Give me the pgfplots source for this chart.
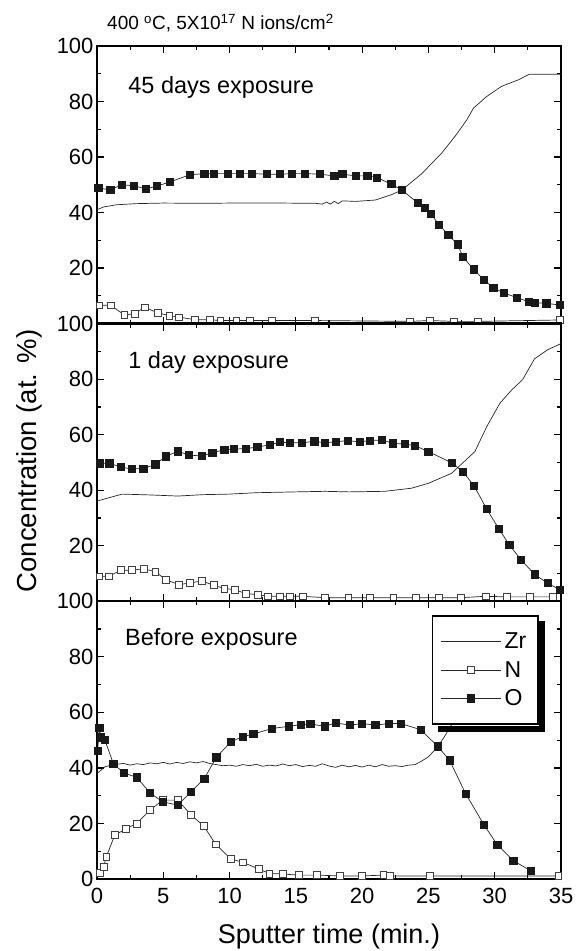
\documentclass[border=0pt]{standalone}
\usepackage{fontspec}
\setmainfont{Liberation Sans}
\usepackage{pgfplots}
\pgfplotsset{compat=1.18}

\pgfplotsset{
  panel/.style={
    scale only axis, width=464pt, height=277.7pt,
    xmin=0, xmax=35, ymin=0, ymax=100,
    xtick={0,5,...,35}, minor x tick num=1,
    ytick={0,20,...,100}, minor y tick num=1,
    tick align=inside,
    major tick length=7pt, minor tick length=4pt,
    tick style={black, line width=1.2pt},
    axis line style={line width=2.2pt},
    tick label style={font=\fontsize{22}{24}\selectfont},
    xticklabel style={yshift=-6pt},
    /pgf/number format/assume math mode=true,
    anchor=south west,
    legend image code/.code={\draw[mark repeat=2,mark phase=2,##1] plot coordinates {(0pt,0pt) (30pt,0pt) (60pt,0pt)};},
  },
  zr/.style={black!85, line width=0.7pt, no marks},
  nn/.style={black!85, line width=0.7pt, mark=square*, mark size=3.4pt, mark options={fill=white, draw=black!75, line width=0.6pt}},
  oo/.style={black!85, line width=0.7pt, mark=square*, mark size=3.6pt, mark options={fill=black!90, draw=black!90}},
}

\begin{document}
\begin{tikzpicture}
\path[use as bounding box] (0pt,0pt) rectangle (584pt,951pt);

% ---------------- top panel: 45 days ----------------
\begin{axis}[panel, at={(97pt,627.4pt)}, xticklabels={}, yticklabels={,20,40,60,80,100}]
\addplot[zr] coordinates {
(0,41.0) (0.5,42.0) (1.5,42.8) (3,43.2) (5,43.4) (8,43.3) (10,43.4) (12,43.4) (14,43.4)
(16.5,43.3) (17.0,43.0) (17.3,43.8) (17.6,43.0) (17.9,44.0) (18.2,43.2) (18.5,44.2)
(19.5,44.0) (21.0,44.5) (22.2,46.4) (23.0,48.1) (24.5,54.0) (26.0,61.4) (27.0,67.4)
(27.9,73.4) (28.4,77.6) (29.4,81.8) (30.5,85.4) (31.8,87.8) (32.6,89.8) (35.0,89.8)};
\addplot[nn] coordinates {
(0.17,6.6) (1.03,6.6) (2.06,3.1) (2.84,3.6) (3.6,5.9) (4.6,3.8) (5.45,2.9) (6.2,2.3)
(7.4,1.4) (8.5,1.4) (9.3,1.1) (10.5,1.1) (11.5,1.1) (13.2,1.1) (16.4,1.1) (23.6,0.8)
(25.1,1.1) (26.9,0.8) (28.75,0.8) (34.9,1.3)};
\addplot[oo] coordinates {
(0.1,48.8) (1.0,48.2) (1.9,50.0) (2.8,49.6) (3.7,48.5) (4.5,49.5) (5.5,51.0) (7.0,53.6)
(8.1,54.0) (8.8,54.0) (9.9,54.0) (10.8,54.0) (11.7,54.0) (12.8,53.8) (13.8,53.8)
(14.7,54.0) (15.7,54.0) (16.8,53.8) (17.9,53.2) (18.5,53.8) (19.5,53.2) (20.4,53.2)
(21.1,52.6) (22.2,50.2) (23.0,48.1) (24.2,43.4) (24.7,41.6) (25.2,39.4) (25.8,35.6)
(26.5,32.0) (27.2,28.5) (27.6,24.1) (28.4,19.5) (29.2,15.7) (29.9,12.9) (30.7,11.0)
(31.65,9.4) (32.6,7.8) (33.0,7.5) (33.9,7.3) (34.9,6.7)};
\node[anchor=base west, font=\fontsize{23.5}{26}\selectfont] at (axis cs:2.1,83) {45 days exposure};
\end{axis}

% ---------------- middle panel: 1 day ----------------
\begin{axis}[panel, at={(97pt,349.7pt)}, xticklabels={}, yticklabels={,20,40,60,80,100}]
\addplot[zr] coordinates {
(0,36.1) (1.9,38.6) (4,38.3) (6.1,37.9) (8,38.4) (10,38.6) (12,39.1) (15,39.4) (17.2,39.6)
(19,39.4) (21.7,39.6) (23.7,40.7) (25.0,42.5) (26.75,46.1) (28.5,53.9) (29.4,62.9)
(30.4,71.4) (31.3,76.2) (32.1,79.8) (33.0,87.3) (34.0,90.6) (35.0,92.8)};
\addplot[nn] coordinates {
(0.17,9.0) (0.9,9.0) (1.8,11.2) (2.6,11.2) (3.5,11.7) (4.4,10.7) (5.2,7.7) (6.2,6.0)
(7.0,6.6) (7.9,7.3) (8.8,5.8) (9.6,4.6) (10.4,4.2) (11.2,2.8) (12.1,2.4) (12.9,1.8)
(13.8,1.8) (14.55,1.8) (15.5,1.8) (17.2,1.3) (18.95,1.3) (20.6,1.3) (22.35,1.3)
(24.06,1.3) (25.8,1.3) (27.45,1.3) (29.3,1.8) (30.9,1.6) (32.65,1.6) (34.4,1.6)};
\addplot[oo] coordinates {
(0.23,49.7) (0.93,49.7) (1.8,48.3) (2.6,47.7) (3.5,47.8) (4.4,49.3) (5.2,52.2) (6.1,54.0)
(6.9,52.7) (7.9,52.3) (8.7,53.5) (9.6,54.6) (10.35,54.8) (11.2,55.0) (12.1,55.5)
(13.05,56.4) (13.8,57.3) (14.55,57.1) (15.46,57.1) (16.4,57.6) (17.2,57.1) (18.0,57.4)
(18.9,57.9) (19.8,57.4) (20.6,57.9) (21.5,58.1) (22.3,56.9) (23.2,56.6) (24.0,56.0)
(25.0,53.9) (26.75,49.9) (27.6,46.7) (28.45,41.5) (29.4,33.2) (30.3,26.2) (31.1,20.3)
(32.0,14.9) (33.0,9.7) (34.0,6.5) (34.9,4.2)};
\node[anchor=base west, font=\fontsize{23.5}{26}\selectfont] at (axis cs:2.1,84) {1 day exposure};
\end{axis}

% ---------------- bottom panel: before exposure ----------------
\begin{axis}[panel, at={(97pt,72pt)},
  legend style={at={(axis cs:25.24,95)}, anchor=north west, draw=black, line width=1.6pt,
    fill=white, font=\fontsize{23}{25}\selectfont, row sep=7pt,
    inner xsep=8pt, inner ysep=15pt, name=leg,
    nodes={font=\fontsize{23}{25}\selectfont, inner xsep=3.5pt}},
  legend cell align=left]
\addplot[zr] coordinates {
(0,38.0) (0.6,40.4) (1.2,41.2) (2,41.6) (2.5,41.0) (3,41.5) (3.5,41.2) (4,41.8) (4.5,41.5)
(5,42.0) (5.5,41.4) (6,42.0) (6.5,41.6) (7,42.2) (7.5,41.8) (8,42.3) (8.5,41.6) (9,41.2)
(9.5,40.8) (10,41.0) (10.5,40.6) (11,41.2) (11.5,40.8) (12,41.3) (12.5,40.6) (13,41.0)
(13.5,40.7) (14,41.4) (14.5,40.8) (15,41.2) (15.5,40.5) (16,40.9) (16.5,40.6) (17,41.5)
(17.5,40.7) (18,40.2) (18.5,41.0) (19,40.4) (19.5,40.9) (20,40.3) (20.5,41.0) (21,40.4)
(21.5,41.2) (22,40.6) (22.5,40.8) (23,40.5) (23.5,41.0) (24,41.2) (24.5,42.5) (25.0,44.0)
(25.7,47.6) (26.2,51.2) (26.8,56.0) (27.5,62.0)};
\addlegendentry{Zr}
\addplot[nn] coordinates {
(0.23,2.3) (0.5,4.4) (0.7,8.0) (1.34,15.8) (2.2,18.1) (3.0,20.0) (4.0,24.8) (4.95,28.4)
(6.1,28.4) (7.1,23.0) (8.05,19.1) (8.95,12.5) (10.1,7.2) (11.0,6.0) (12.2,3.6) (13.0,2.0)
(14.0,1.8) (15.2,1.4) (16.6,1.4) (18.3,1.1) (20.0,1.1) (21.6,1.4) (22.1,1.1) (25.1,1.1)
(34.8,1.1)};
\addlegendentry{N}
\addplot[oo] coordinates {
(0.05,46.2) (0.17,54.4) (0.3,51.0) (0.6,50.0) (1.23,41.6) (2.0,38.2) (3.0,36.6) (4.0,31.0)
(4.95,27.8) (6.1,26.6) (7.07,31.3) (8.1,36.2) (9.0,43.8) (10.1,49.4) (11.0,51.3)
(11.8,52.2) (13.2,54.2) (14.5,55.0) (15.4,55.6) (16.1,55.8) (17.2,55.0) (18.0,56.2)
(19.1,55.4) (20.0,56.0) (21.0,55.4) (22.0,56.0) (22.9,56.0) (24.4,53.8) (25.7,47.8)
(26.6,42.7) (27.8,30.8) (29.2,19.4) (30.2,12.3) (31.4,6.6) (32.7,3.0)};
\addlegendentry{O}
\node[anchor=base west, font=\fontsize{23.5}{26}\selectfont] at (axis cs:1.86,84.2) {Before exposure};
\end{axis}
% legend shadow (outside the legend box)
\fill[black] ([xshift=0.8pt,yshift=-6pt]leg.north east) rectangle ([xshift=6.8pt,yshift=-6.8pt]leg.south east);
\fill[black] ([xshift=6pt,yshift=-0.8pt]leg.south west) rectangle ([xshift=6.8pt,yshift=-6.8pt]leg.south east);

% titles and labels
\node[anchor=base west, inner sep=0pt, font=\fontsize{19}{22}\selectfont] at (107pt,921pt)
  {400 \textsuperscript{o}C, 5X10\textsuperscript{17} N ions/cm\textsuperscript{2}};
\node[anchor=base, font=\fontsize{27}{30}\selectfont] at (329pt,8pt) {Sputter time (min.)};
\node[rotate=90, font=\fontsize{27.5}{30}\selectfont] at (29pt,490pt) {Concentration (at. \%)};
\end{tikzpicture}
\end{document}
